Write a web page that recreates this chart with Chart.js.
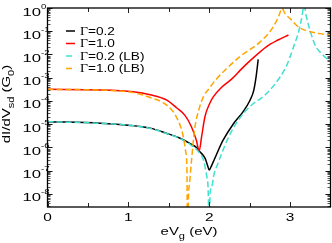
<!DOCTYPE html>
<html><head><meta charset="utf-8">
<script src="https://cdn.jsdelivr.net/npm/chart.js@4/dist/chart.umd.min.js"></script>
<style>html,body{margin:0;padding:0;background:#fff}canvas{display:block}</style>
</head><body>
<canvas id="c" width="332" height="243" style="width:332px;height:243px"></canvas>
<script>
// ---- data ----
const seriesLabels = ['Γ=0.2', 'Γ=1.0', 'Γ=0.2 (LB)', 'Γ=1.0 (LB)'];

const g02X = [0, 0.65, 1.0, 1.27, 1.47, 1.64, 1.76, 1.85, 1.88, 1.95, 1.98, 2.0, 2.02, 2.05, 2.09, 2.17, 2.30, 2.42, 2.50, 2.55, 2.58, 2.606];
const g02Y = [1.29e-5, 1.10e-5, 9.1e-6, 6.8e-6, 4.1e-6, 2.5e-6, 1.5e-6, 9.5e-7, 6.9e-7, 3.4e-7, 1.66e-7, 1.07e-7, 1.41e-7, 2.4e-7, 5.0e-7, 2.0e-6, 1.05e-5, 3.5e-5, 1.0e-4, 2.8e-4, 1.12e-3, 6.2e-3];

const g10X = [0, 0.65, 1.06, 1.27, 1.47, 1.60, 1.70, 1.78, 1.84, 1.876, 1.906, 1.947, 2.0, 2.05, 2.15, 2.28, 2.40, 2.52, 2.71, 2.85, 2.98];
const g10Y = [3.16e-4, 3.0e-4, 2.5e-4, 1.86e-4, 1.12e-4, 5.0e-5, 2.4e-5, 7.8e-6, 2.1e-6, 7.2e-7, 2.9e-6, 2.1e-5, 7.1e-5, 1.51e-4, 3.8e-4, 8.9e-4, 2.4e-3, 6.0e-3, 2.2e-2, 4.2e-2, 6.9e-2];

const g02lbX = [0, 0.65, 1.0, 1.27, 1.47, 1.64, 1.76, 1.88, 1.93, 1.97, 1.99, 2.0, 2.01, 2.03, 2.06, 2.10, 2.15, 2.22, 2.36, 2.50, 2.71, 2.88, 2.96, 3.0, 3.05, 3.10, 3.14, 3.175, 3.20, 3.25, 3.31, 3.40, 3.5];
const g02lbY = [1.29e-5, 1.10e-5, 9.1e-6, 6.6e-6, 4.0e-6, 2.4e-6, 1.38e-6, 5.8e-7, 2.8e-7, 5.6e-8, 6.3e-9, 1e-12, 1e-8, 2.0e-8, 7.1e-8, 1.78e-7, 5.0e-7, 2.0e-6, 1.5e-5, 5.6e-5, 2.1e-4, 1.12e-3, 3.5e-3, 7.9e-3, 2.5e-2, 7.9e-2, 0.32, 1.26, 0.45, 0.1, 2.5e-2, 1.0e-2, 4.8e-3];

const g10lbX = [0, 0.65, 1.06, 1.27, 1.47, 1.60, 1.68, 1.71, 1.725, 1.733, 1.742, 1.755, 1.78, 1.82, 1.87, 1.93, 2.0, 2.09, 2.2, 2.38, 2.63, 2.79, 2.86, 2.90, 2.94, 3.0, 3.06, 3.12, 3.25, 3.37, 3.5];
const g10lbY = [3.16e-4, 2.95e-4, 2.29e-4, 1.41e-4, 6.8e-5, 1.86e-5, 2.9e-6, 6.3e-7, 7.9e-8, 1e-12, 5.0e-9, 2.5e-8, 2.5e-7, 6.3e-6, 4.0e-5, 1.58e-4, 3.5e-4, 8.9e-4, 2.2e-3, 8.1e-3, 3.5e-2, 0.15, 0.45, 0.95, 0.56, 0.35, 0.21, 0.14, 9.5e-2, 7.9e-2, 6.9e-2];

const xMajorTicks = [0, 1, 2, 3];
const xMinorTicks = [0.5, 1.5, 2.5];
const yDecadeExps = [0, -1, -2, -3, -4, -5, -6, -7, -8];

// ---- helpers ----
const pts = (xs, ys) => xs.map((x, i) => ({x, y: ys[i]}));
const SANS = '"Liberation Sans", Arial, sans-serif';
const SERIF = '"Liberation Serif", "Times New Roman", serif';

function drawRich(ctx, parts, x, y, rot, align) {
  ctx.save();
  ctx.translate(x, y);
  ctx.rotate(rot);
  let w = 0;
  for (const p of parts) { ctx.font = p.size + 'px ' + (p.fam || SANS); w += ctx.measureText(p.t).width * p.sx; }
  let cx = align === 'center' ? -w / 2 : (align === 'right' ? -w : 0);
  ctx.textAlign = 'left';
  ctx.textBaseline = 'alphabetic';
  for (const p of parts) {
    ctx.font = p.size + 'px ' + (p.fam || SANS);
    const pw = ctx.measureText(p.t).width * p.sx;
    ctx.save();
    ctx.translate(cx, p.dy || 0);
    ctx.scale(p.sx, 1);
    ctx.fillText(p.t, 0, 0);
    ctx.restore();
    cx += pw;
  }
  ctx.restore();
}

const decor = {
  id: 'decor',
  afterDatasetsDraw(chart) {
    const ctx = chart.ctx, ca = chart.chartArea;
    const xs = chart.scales.x, ys = chart.scales.y;
    ctx.save();
    ctx.fillStyle = '#000';
    ctx.strokeStyle = '#000';
    // ticks
    ctx.lineWidth = 1;
    const vtick = (px, len) => {
      ctx.beginPath();
      ctx.moveTo(px, ca.bottom); ctx.lineTo(px, ca.bottom - len);
      ctx.moveTo(px, ca.top); ctx.lineTo(px, ca.top + len);
      ctx.stroke();
    };
    const htick = (py, len) => {
      ctx.beginPath();
      ctx.moveTo(ca.left, py); ctx.lineTo(ca.left + len, py);
      ctx.moveTo(ca.right, py); ctx.lineTo(ca.right - len, py);
      ctx.stroke();
    };
    ctx.strokeStyle = '#222';
    xMajorTicks.forEach(v => vtick(Math.round(xs.getPixelForValue(v)) + 0.5, 5));
    xMinorTicks.forEach(v => vtick(Math.round(xs.getPixelForValue(v)) + 0.5, 4));
    ctx.strokeStyle = '#555';
    for (let e = -9; e <= -1; e++) {
      for (let k = 2; k <= 9; k++) {
        const v = k * Math.pow(10, e);
        if (v < ys.min || v > ys.max) continue;
        htick(Math.round(ys.getPixelForValue(v)) + 0.5, 3);
      }
    }
    ctx.strokeStyle = '#111';
    yDecadeExps.forEach(e => htick(Math.round(ys.getPixelForValue(Math.pow(10, e))) + 0.5, 5));

    // frame
    ctx.strokeStyle = '#000';
    ctx.lineWidth = 1.3;
    ctx.strokeRect(ca.left, ca.top, ca.right - ca.left, ca.bottom - ca.top);

    // y tick labels
    yDecadeExps.forEach(e => {
      const py = ys.getPixelForValue(Math.pow(10, e));
      drawRich(ctx, [{t: '10', size: 11.5, sx: 1.45}], 41, py + 7.5, 0, 'right');
      drawRich(ctx, [{t: String(e), size: 8, sx: 1.2}], 41, py + 0.5, 0, 'left');
    });
    // x tick labels
    xMajorTicks.forEach(v => {
      drawRich(ctx, [{t: String(v), size: 11, sx: 1.4}], xs.getPixelForValue(v), 221, 0, 'center');
    });
    // x title
    drawRich(ctx, [
      {t: 'eV', size: 11.5, sx: 1.3},
      {t: 'g', size: 8.5, sx: 1.3, dy: 3.5},
      {t: ' (eV)', size: 11.5, sx: 1.3}
    ], (ca.left + ca.right) / 2, 235, 0, 'center');
    // y title
    drawRich(ctx, [
      {t: 'dI/dV', size: 11.5, sx: 1.3},
      {t: 'sd', size: 8.5, sx: 1.3, dy: 3.5},
      {t: ' (G', size: 11.5, sx: 1.3},
      {t: '0', size: 8.5, sx: 1.3, dy: 3.5},
      {t: ')', size: 11.5, sx: 1.3}
    ], 10, 104, -Math.PI / 2, 'center');

    // legend
    const rowY = [31, 43.5, 56, 68.5];
    chart.data.datasets.forEach((ds, i) => {
      const y = rowY[i];
      ctx.save();
      ctx.strokeStyle = ds.borderColor;
      ctx.lineWidth = 1.5;
      ctx.setLineDash(ds.borderDash || []);
      ctx.beginPath(); ctx.moveTo(66, y); ctx.lineTo(75, y); ctx.stroke();
      ctx.restore();
      const lab = ds.label;
      drawRich(ctx, [
        {t: lab.charAt(0), size: 11.5, sx: 1.2, fam: SERIF},
        {t: lab.slice(1), size: 10.5, sx: 1.3}
      ], 80, y + 3.8, 0, 'left');
    });
    ctx.restore();
  }
};

const common = {pointRadius: 0, borderWidth: 1.5, fill: false, cubicInterpolationMode: 'monotone'};

new Chart(document.getElementById('c'), {
  type: 'line',
  data: {
    datasets: [
      Object.assign({label: seriesLabels[0], data: pts(g02X, g02Y), borderColor: '#000000', order: 4}, common),
      Object.assign({label: seriesLabels[1], data: pts(g10X, g10Y), borderColor: '#ff0000', order: 3}, common),
      Object.assign({label: seriesLabels[2], data: pts(g02lbX, g02lbY), borderColor: '#40e0d0', borderDash: [6, 3], order: 2}, common),
      Object.assign({label: seriesLabels[3], data: pts(g10lbX, g10lbY), borderColor: '#ffa500', borderDash: [6, 3], order: 1}, common)
    ]
  },
  options: {
    responsive: false,
    animation: false,
    layout: {padding: {left: 47.5, right: 1.5, top: 8, bottom: 36}},
    scales: {
      x: {type: 'linear', min: 0, max: 3.5, display: false},
      y: {type: 'logarithmic', min: 2.75e-9, max: 1, display: false}
    },
    plugins: {legend: {display: false}, tooltip: {enabled: false}}
  },
  plugins: [decor]
});
</script>
</body></html>
